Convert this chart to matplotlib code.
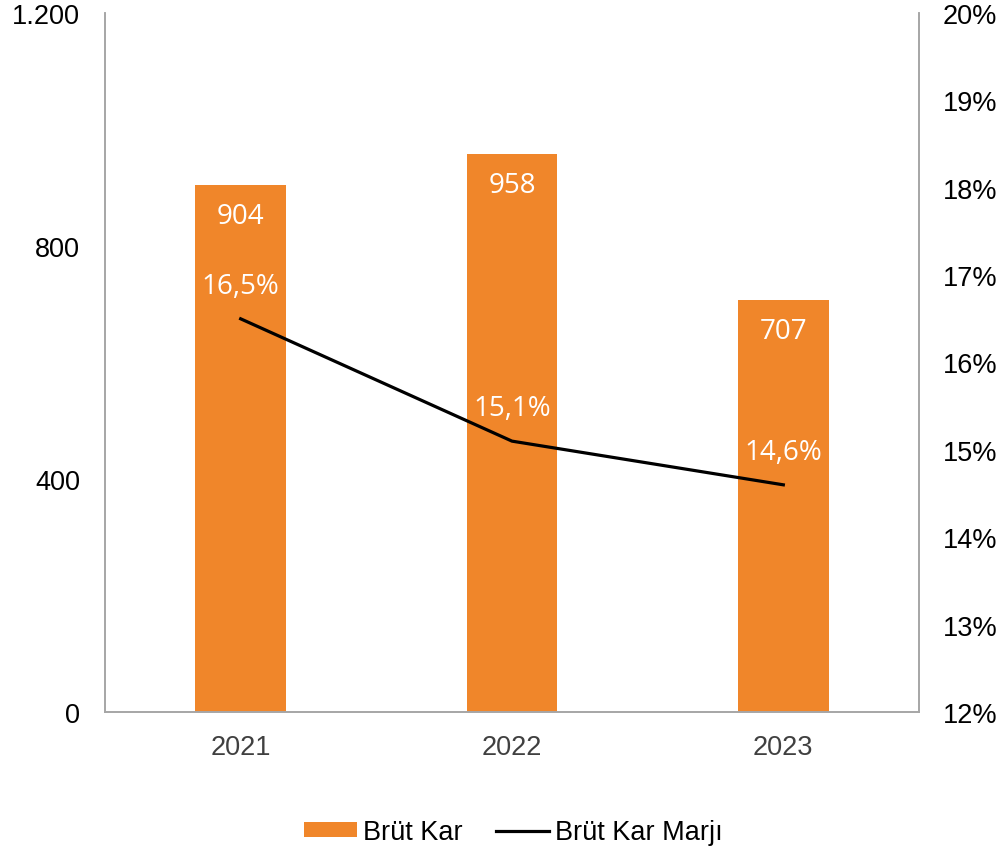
import matplotlib.pyplot as plt
from matplotlib.ticker import FuncFormatter

years = ['2021', '2022', '2023']
brut_kar = [904, 958, 707]
brut_kar_marji = [16.5, 15.1, 14.6]

orange = '#F0862A'
spine_col = '#A6A6A6'

plt.rcParams['font.family'] = ['Liberation Sans', 'DejaVu Sans']

fig = plt.figure(figsize=(10.05, 8.54), dpi=100)
ax = fig.add_axes([105 / 1005, 1 - 713 / 854, (919 - 105) / 1005, (713 - 14) / 854])
ax2 = ax.twinx()

x = list(range(len(years)))
ax.bar(x, brut_kar, width=0.335, color=orange, label='Brüt Kar', zorder=2)
ax.set_xlim(-0.5, 2.5)
ax.set_ylim(0, 1200)
ax.set_yticks([0, 400, 800, 1200])
ax.yaxis.set_major_formatter(FuncFormatter(lambda v, p: f'{int(v):,}'.replace(',', '.')))
ax.set_xticks(x)
ax.set_xticklabels(years, color='#404040')

ax2.plot(x, brut_kar_marji, color='black', lw=2.3, label='Brüt Kar Marjı', zorder=3)
ax2.set_ylim(12, 20)
ax2.set_yticks(range(12, 21))
ax2.yaxis.set_major_formatter(FuncFormatter(lambda v, p: f'{int(v)}%'))

for a in (ax, ax2):
    a.tick_params(length=0, labelsize=19.5)
    a.spines['top'].set_visible(False)
    for s in ('left', 'right', 'bottom'):
        a.spines[s].set_color(spine_col)
        a.spines[s].set_linewidth(1.2)
ax.tick_params(axis='y', pad=18)
ax.tick_params(axis='x', pad=16)
ax2.tick_params(axis='y', pad=17)

# data labels in white, bar values inside the bar top, margins above the line
lab_font = dict(color='white', fontsize=20, family=['Open Sans', 'DejaVu Sans'],
                ha='center', va='center')
for xi, v in zip(x, brut_kar):
    ax.annotate(str(v), (xi, v), xytext=(0, -31), textcoords='offset pixels', **lab_font)
for xi, m in zip(x, brut_kar_marji):
    ax2.annotate(f'{m:.1f}%'.replace('.', ','), (xi, m), xytext=(0, 33),
                 textcoords='offset pixels', **lab_font)

h1, l1 = ax.get_legend_handles_labels()
h2, l2 = ax2.get_legend_handles_labels()
fig.legend(h1 + h2, l1 + l2, loc='center', bbox_to_anchor=(0.511, 0.0246), ncol=2,
           frameon=False, fontsize=19.5, handlelength=1.95, handletextpad=0.22,
           columnspacing=1.25, handleheight=0.45)

fig.savefig('out.png', dpi=100)
